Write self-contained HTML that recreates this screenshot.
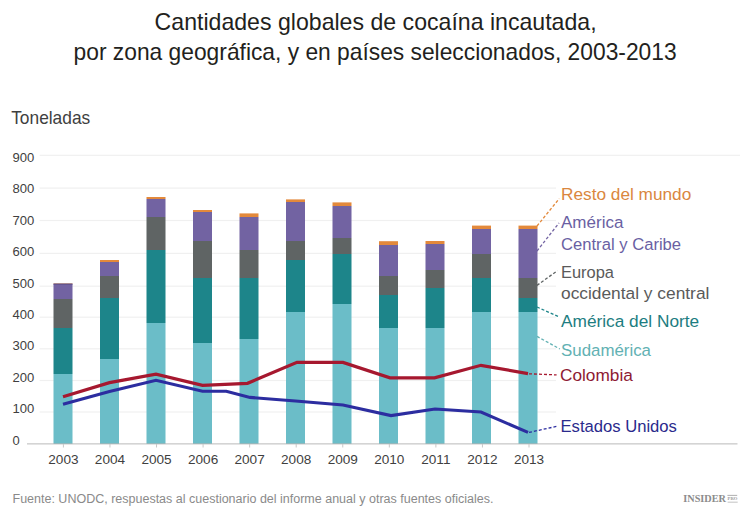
<!DOCTYPE html><html><head><meta charset="utf-8"><style>html,body{margin:0;padding:0;background:#fff;overflow:hidden;width:750px;height:515px;}svg{display:block;}text{font-family:"Liberation Sans",sans-serif;}</style></head><body>
<svg width="750" height="515" viewBox="0 0 750 515">
<rect width="750" height="515" fill="#fff"/>
<text x="154.6" y="30.2" font-size="23.8" fill="#231F20" textLength="442" lengthAdjust="spacingAndGlyphs">Cantidades globales de cocaína incautada,</text>
<text x="73.6" y="60.4" font-size="23.4" fill="#231F20" textLength="603" lengthAdjust="spacingAndGlyphs">por zona geográfica, y en países seleccionados, 2003-2013</text>
<text x="11.2" y="124.4" font-size="18.4" fill="#3F3F3F" textLength="79" lengthAdjust="spacingAndGlyphs">Toneladas</text>
<rect x="39.6" y="154.70" width="700.4" height="1.2" fill="#F0F0F0"/>
<rect x="39.6" y="187.50" width="516.4" height="1.2" fill="#F0F0F0"/>
<rect x="39.6" y="219.90" width="516.4" height="1.2" fill="#F0F0F0"/>
<rect x="39.6" y="252.80" width="516.4" height="1.2" fill="#F0F0F0"/>
<rect x="39.6" y="285.60" width="516.4" height="1.2" fill="#F0F0F0"/>
<rect x="39.6" y="316.60" width="516.4" height="1.2" fill="#F0F0F0"/>
<rect x="39.6" y="348.20" width="516.4" height="1.2" fill="#F0F0F0"/>
<rect x="39.6" y="379.90" width="516.4" height="1.2" fill="#F0F0F0"/>
<rect x="39.6" y="411.40" width="516.4" height="1.2" fill="#F0F0F0"/>
<text x="12.5" y="444.80" font-size="13.6" textLength="7.2" lengthAdjust="spacingAndGlyphs" fill="#3F3F3F">0</text>
<text x="12.5" y="413.36" font-size="13.6" textLength="21.8" lengthAdjust="spacingAndGlyphs" fill="#3F3F3F">100</text>
<text x="12.5" y="381.92" font-size="13.6" textLength="21.8" lengthAdjust="spacingAndGlyphs" fill="#3F3F3F">200</text>
<text x="12.5" y="350.48" font-size="13.6" textLength="21.8" lengthAdjust="spacingAndGlyphs" fill="#3F3F3F">300</text>
<text x="12.5" y="319.04" font-size="13.6" textLength="21.8" lengthAdjust="spacingAndGlyphs" fill="#3F3F3F">400</text>
<text x="12.5" y="287.60" font-size="13.6" textLength="21.8" lengthAdjust="spacingAndGlyphs" fill="#3F3F3F">500</text>
<text x="12.5" y="256.16" font-size="13.6" textLength="21.8" lengthAdjust="spacingAndGlyphs" fill="#3F3F3F">600</text>
<text x="12.5" y="224.72" font-size="13.6" textLength="21.8" lengthAdjust="spacingAndGlyphs" fill="#3F3F3F">700</text>
<text x="12.5" y="193.28" font-size="13.6" textLength="21.8" lengthAdjust="spacingAndGlyphs" fill="#3F3F3F">800</text>
<text x="12.5" y="161.84" font-size="13.6" textLength="21.8" lengthAdjust="spacingAndGlyphs" fill="#3F3F3F">900</text>
<rect x="53.50" y="283.50" width="19.0" height="0.50" fill="#E3893B"/>
<rect x="53.50" y="284.00" width="19.0" height="15.00" fill="#7263A2"/>
<rect x="53.50" y="299.00" width="19.0" height="29.00" fill="#5F6464"/>
<rect x="53.50" y="328.00" width="19.0" height="46.00" fill="#1D858A"/>
<rect x="53.50" y="374.00" width="19.0" height="69.50" fill="#6BBDC8"/>
<rect x="100.00" y="260.00" width="19.0" height="2.00" fill="#E3893B"/>
<rect x="100.00" y="262.00" width="19.0" height="14.00" fill="#7263A2"/>
<rect x="100.00" y="276.00" width="19.0" height="22.00" fill="#5F6464"/>
<rect x="100.00" y="298.00" width="19.0" height="61.00" fill="#1D858A"/>
<rect x="100.00" y="359.00" width="19.0" height="84.50" fill="#6BBDC8"/>
<rect x="146.50" y="197.00" width="19.0" height="2.00" fill="#E3893B"/>
<rect x="146.50" y="199.00" width="19.0" height="18.00" fill="#7263A2"/>
<rect x="146.50" y="217.00" width="19.0" height="33.00" fill="#5F6464"/>
<rect x="146.50" y="250.00" width="19.0" height="73.00" fill="#1D858A"/>
<rect x="146.50" y="323.00" width="19.0" height="120.50" fill="#6BBDC8"/>
<rect x="193.00" y="210.00" width="19.0" height="2.00" fill="#E3893B"/>
<rect x="193.00" y="212.00" width="19.0" height="29.00" fill="#7263A2"/>
<rect x="193.00" y="241.00" width="19.0" height="37.00" fill="#5F6464"/>
<rect x="193.00" y="278.00" width="19.0" height="65.00" fill="#1D858A"/>
<rect x="193.00" y="343.00" width="19.0" height="100.50" fill="#6BBDC8"/>
<rect x="239.50" y="213.40" width="19.0" height="3.60" fill="#E3893B"/>
<rect x="239.50" y="217.00" width="19.0" height="33.00" fill="#7263A2"/>
<rect x="239.50" y="250.00" width="19.0" height="28.00" fill="#5F6464"/>
<rect x="239.50" y="278.00" width="19.0" height="61.00" fill="#1D858A"/>
<rect x="239.50" y="339.00" width="19.0" height="104.50" fill="#6BBDC8"/>
<rect x="286.00" y="199.40" width="19.0" height="2.60" fill="#E3893B"/>
<rect x="286.00" y="202.00" width="19.0" height="39.00" fill="#7263A2"/>
<rect x="286.00" y="241.00" width="19.0" height="19.00" fill="#5F6464"/>
<rect x="286.00" y="260.00" width="19.0" height="52.00" fill="#1D858A"/>
<rect x="286.00" y="312.00" width="19.0" height="131.50" fill="#6BBDC8"/>
<rect x="332.50" y="202.40" width="19.0" height="3.60" fill="#E3893B"/>
<rect x="332.50" y="206.00" width="19.0" height="32.00" fill="#7263A2"/>
<rect x="332.50" y="238.00" width="19.0" height="16.00" fill="#5F6464"/>
<rect x="332.50" y="254.00" width="19.0" height="50.00" fill="#1D858A"/>
<rect x="332.50" y="304.00" width="19.0" height="139.50" fill="#6BBDC8"/>
<rect x="379.00" y="241.20" width="19.0" height="3.80" fill="#E3893B"/>
<rect x="379.00" y="245.00" width="19.0" height="31.00" fill="#7263A2"/>
<rect x="379.00" y="276.00" width="19.0" height="19.00" fill="#5F6464"/>
<rect x="379.00" y="295.00" width="19.0" height="33.00" fill="#1D858A"/>
<rect x="379.00" y="328.00" width="19.0" height="115.50" fill="#6BBDC8"/>
<rect x="425.50" y="241.00" width="19.0" height="3.00" fill="#E3893B"/>
<rect x="425.50" y="244.00" width="19.0" height="26.00" fill="#7263A2"/>
<rect x="425.50" y="270.00" width="19.0" height="18.00" fill="#5F6464"/>
<rect x="425.50" y="288.00" width="19.0" height="40.00" fill="#1D858A"/>
<rect x="425.50" y="328.00" width="19.0" height="115.50" fill="#6BBDC8"/>
<rect x="472.00" y="225.60" width="19.0" height="3.40" fill="#E3893B"/>
<rect x="472.00" y="229.00" width="19.0" height="25.00" fill="#7263A2"/>
<rect x="472.00" y="254.00" width="19.0" height="24.00" fill="#5F6464"/>
<rect x="472.00" y="278.00" width="19.0" height="34.00" fill="#1D858A"/>
<rect x="472.00" y="312.00" width="19.0" height="131.50" fill="#6BBDC8"/>
<rect x="518.50" y="225.60" width="19.0" height="3.40" fill="#E3893B"/>
<rect x="518.50" y="229.00" width="19.0" height="49.00" fill="#7263A2"/>
<rect x="518.50" y="278.00" width="19.0" height="20.00" fill="#5F6464"/>
<rect x="518.50" y="298.00" width="19.0" height="14.00" fill="#1D858A"/>
<rect x="518.50" y="312.00" width="19.0" height="131.50" fill="#6BBDC8"/>
<rect x="53.5" y="283.5" width="19" height="1.2" fill="#5E5088"/>
<rect x="27" y="443.2" width="710.5" height="1.3" fill="#000" fill-opacity="0.21"/>
<rect x="62.90" y="444" width="1" height="3.5" fill="#C8C8C8"/>
<text x="63.40" y="464.2" font-size="13.6" fill="#3F3F3F" text-anchor="middle">2003</text>
<rect x="109.46" y="444" width="1" height="3.5" fill="#C8C8C8"/>
<text x="109.96" y="464.2" font-size="13.6" fill="#3F3F3F" text-anchor="middle">2004</text>
<rect x="156.02" y="444" width="1" height="3.5" fill="#C8C8C8"/>
<text x="156.52" y="464.2" font-size="13.6" fill="#3F3F3F" text-anchor="middle">2005</text>
<rect x="202.58" y="444" width="1" height="3.5" fill="#C8C8C8"/>
<text x="203.08" y="464.2" font-size="13.6" fill="#3F3F3F" text-anchor="middle">2006</text>
<rect x="249.14" y="444" width="1" height="3.5" fill="#C8C8C8"/>
<text x="249.64" y="464.2" font-size="13.6" fill="#3F3F3F" text-anchor="middle">2007</text>
<rect x="295.70" y="444" width="1" height="3.5" fill="#C8C8C8"/>
<text x="296.20" y="464.2" font-size="13.6" fill="#3F3F3F" text-anchor="middle">2008</text>
<rect x="342.26" y="444" width="1" height="3.5" fill="#C8C8C8"/>
<text x="342.76" y="464.2" font-size="13.6" fill="#3F3F3F" text-anchor="middle">2009</text>
<rect x="388.82" y="444" width="1" height="3.5" fill="#C8C8C8"/>
<text x="389.32" y="464.2" font-size="13.6" fill="#3F3F3F" text-anchor="middle">2010</text>
<rect x="435.38" y="444" width="1" height="3.5" fill="#C8C8C8"/>
<text x="435.88" y="464.2" font-size="13.6" fill="#3F3F3F" text-anchor="middle">2011</text>
<rect x="481.94" y="444" width="1" height="3.5" fill="#C8C8C8"/>
<text x="482.44" y="464.2" font-size="13.6" fill="#3F3F3F" text-anchor="middle">2012</text>
<rect x="528.50" y="444" width="1" height="3.5" fill="#C8C8C8"/>
<text x="529.00" y="464.2" font-size="13.6" fill="#3F3F3F" text-anchor="middle">2013</text>
<polyline points="63,396.8 109.5,382.6 156,374.1 202.5,385.3 247.5,383.3 297,362.4 343,362.4 390,377.8 434.5,377.8 481,365.3 528,373.6" fill="none" stroke="#A6182F" stroke-width="3.2" stroke-linejoin="miter"/>
<polyline points="63,404.3 109.5,391.5 156,380.3 202.5,391.3 226.3,391.3 250,397.4 295.5,401.0 343,405.0 391,415.6 435,409.0 481,412.0 528,432.4" fill="none" stroke="#2C2DA0" stroke-width="3.1" stroke-linejoin="miter"/>
<line x1="537" y1="226" x2="559.2" y2="198.7" stroke="#E3893B" stroke-width="1.3" stroke-dasharray="3,2"/>
<line x1="537" y1="251" x2="559" y2="223" stroke="#7263A2" stroke-width="1.3" stroke-dasharray="3,2"/>
<line x1="537" y1="285.4" x2="557.4" y2="270.7" stroke="#5F6464" stroke-width="1.3" stroke-dasharray="3,2"/>
<line x1="537" y1="307" x2="558.4" y2="316.6" stroke="#1D858A" stroke-width="1.3" stroke-dasharray="3,2"/>
<line x1="537" y1="336.4" x2="559.9" y2="349" stroke="#62B1B3" stroke-width="1.3" stroke-dasharray="3,2"/>
<line x1="529" y1="373.8" x2="556.6" y2="374.9" stroke="#A6182F" stroke-width="1.3" stroke-dasharray="3,2"/>
<line x1="529" y1="432.4" x2="557" y2="426.3" stroke="#2C2DA0" stroke-width="1.3" stroke-dasharray="3,2"/>
<text x="561.0" y="199.9" font-size="17.2" fill="#DA873F" textLength="130.3" lengthAdjust="spacingAndGlyphs">Resto del mundo</text>
<text x="561.0" y="228.3" font-size="17.2" fill="#6A5FA3" textLength="62.4" lengthAdjust="spacingAndGlyphs">América</text>
<text x="561.0" y="249.9" font-size="17.2" fill="#6A5FA3" textLength="120.1" lengthAdjust="spacingAndGlyphs">Central y Caribe</text>
<text x="561.0" y="277.79999999999995" font-size="17.2" fill="#5A5A5A" textLength="53.0" lengthAdjust="spacingAndGlyphs">Europa</text>
<text x="561.0" y="298.9" font-size="17.2" fill="#5A5A5A" textLength="148.4" lengthAdjust="spacingAndGlyphs">occidental y central</text>
<text x="561.0" y="327.2" font-size="17.2" fill="#1D7D81" textLength="138.2" lengthAdjust="spacingAndGlyphs">América del Norte</text>
<text x="561.0" y="355.7" font-size="17.2" fill="#62B1B3" textLength="90.0" lengthAdjust="spacingAndGlyphs">Sudamérica</text>
<text x="560.0" y="380.79999999999995" font-size="17.2" fill="#8E1A33" textLength="72.8" lengthAdjust="spacingAndGlyphs">Colombia</text>
<text x="560.5" y="432.2" font-size="17.2" fill="#2A2A8C" textLength="116.4" lengthAdjust="spacingAndGlyphs">Estados Unidos</text>
<text x="12.5" y="502.5" font-size="12" fill="#8A8A8A" textLength="480.9" lengthAdjust="spacingAndGlyphs">Fuente: UNODC, respuestas al cuestionario del informe anual y otras fuentes oficiales.</text>
<text x="683.3" y="502.4" font-family="Liberation Serif" font-weight="bold" font-size="9.6" fill="#8C8C8C" textLength="42.7" lengthAdjust="spacingAndGlyphs" style="font-family:'Liberation Serif',serif">INSIDER</text>
<rect x="727.4" y="494.9" width="9.8" height="0.8" fill="#9A9A9A"/>
<rect x="727.6" y="501.8" width="10.1" height="0.6" fill="#9A9A9A"/>
<text x="727.6" y="500.3" font-size="4.6" font-weight="bold" fill="#9A9A9A" textLength="9.8" lengthAdjust="spacingAndGlyphs" style="font-family:'Liberation Serif',serif">PRO</text>
</svg></body></html>
